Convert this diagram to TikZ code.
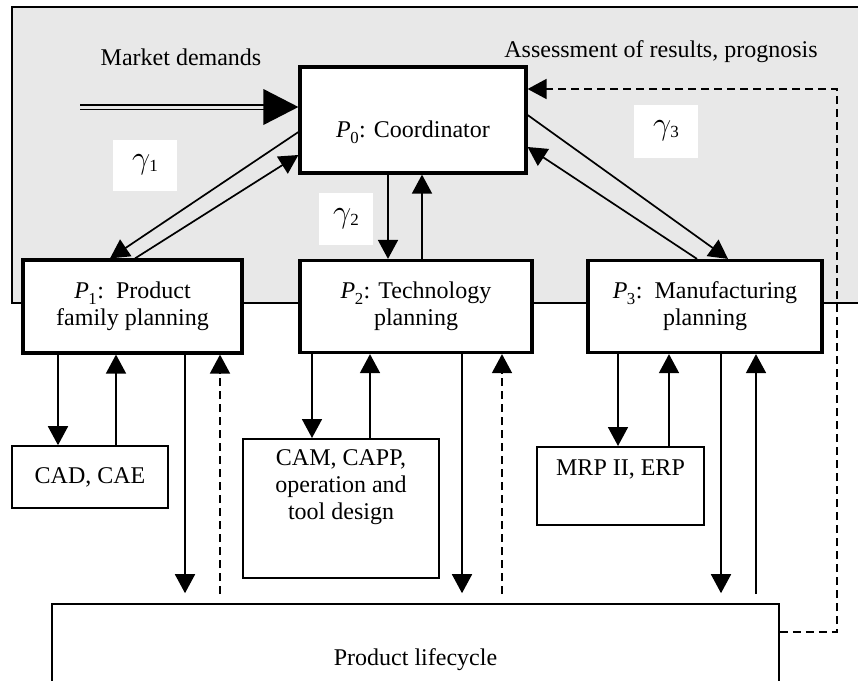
\documentclass[tikz,border=0pt]{standalone}
\usepackage{fontspec}
\usepackage{graphicx}
\setmainfont{Liberation Serif}
\usetikzlibrary{arrows.meta}
\definecolor{bggray}{RGB}{232,232,232}
\newcommand{\Pn}[1]{\textit{P}\textsubscript{\kern-0.5pt\raisebox{-2pt}{#1}}}
\newcommand{\Gn}[1]{\scalebox{1.3}{$\gamma$}\kern-1pt{\fontsize{17}{20}\selectfont\raisebox{-3pt}{#1}}}
\tikzset{
  x=1pt, y=-1pt,
  every node/.style={font=\fontsize{24}{27}\selectfont},
  mainbox/.style={draw, line width=3.2pt, fill=white, align=center, inner sep=0pt},
  toolbox/.style={draw, line width=1.6pt, fill=white, align=center, inner sep=0pt},
  gbox/.style={fill=white, inner sep=0pt},
  conn/.style={line width=1.7pt, -{Triangle[length=19pt,width=20pt]}},
  dconn/.style={conn, dash pattern=on 8pt off 5pt},
}
\begin{document}
\begin{tikzpicture}
\useasboundingbox (0,0) rectangle (858,680);
% grey background area
\draw[line width=1.5pt, fill=bggray] (12,7) rectangle (900,303);

\node (md) at (181,57) {Market demands};
\node (as) at (661,52) {Assessment of results, prognosis};

% main boxes
\node[mainbox, minimum width=226pt, minimum height=106pt] (P0) at (413,120) {};
\node at (413,132) {\Pn{0}: Coordinator};
\node[mainbox, minimum width=219pt, minimum height=93pt] (P1) at (132.5,306.5) {\Pn{1}:\ \ Product\\family planning};
\node[mainbox, minimum width=232pt, minimum height=92pt] (P2) at (416,306.5) {\Pn{2}: Technology\\planning};
\node[mainbox, minimum width=234pt, minimum height=92pt] (P3) at (705,306.5) {\Pn{3}:\ \ Manufacturing\\planning};

% tool boxes
\node[toolbox, minimum width=156pt, minimum height=62pt] (CAD) at (90,477) {CAD, CAE};
\node[toolbox, minimum width=196pt, minimum height=139pt, anchor=north] (CAM) at (341,438) {};
\node[anchor=north, align=center] at (341,446) {CAM, CAPP,\\operation and\\tool design};
\node[toolbox, minimum width=167pt, minimum height=78pt, anchor=north] (MRP) at (620.5,446) {};
\node[anchor=north] at (620.5,456) {MRP II, ERP};
\node[toolbox, minimum width=727pt, minimum height=112pt] (PL) at (415.5,660) {Product lifecycle};

% gamma labels
\node[gbox, minimum width=64pt, minimum height=51pt] (g1) at (145,165) {\Gn{1}};
\node[gbox, minimum width=54pt, minimum height=52pt] (g2) at (346,219) {\Gn{2}};
\node[gbox, minimum width=64pt, minimum height=53pt] (g3) at (666,131) {\Gn{3}};

% market demands double arrow
\coordinate (mdstart) at (80,107);
\coordinate (mdend) at (P0.west |- mdstart);
\draw[line width=1.4pt, double=bggray, double distance=3pt, shorten >=30pt] (mdstart) -- (mdend);
\fill (mdend) -- ([xshift=-35pt,yshift=-18pt]mdend) -- ([xshift=-35pt,yshift=18pt]mdend) -- cycle;

% coordinator links
\draw[conn] (P0.west |- 0,132) -- (P1.north -| 110,0);
\draw[conn] (P1.north -| 135,0) -- (P0.west |- 0,155);
\draw[conn] (P0.south -| 388,0) -- (P2.north -| 388,0);
\draw[conn] (P2.north -| 422,0) -- (P0.south -| 422,0);
\draw[conn] (P0.east |- 0,115) -- (P3.north -| 728,0);
\draw[conn] (P3.north -| 697,0) -- (P0.east |- 0,147);

% tools
\draw[conn] (P1.south -| 58,0) -- (CAD.north -| 58,0);
\draw[conn] (CAD.north -| 116,0) -- (P1.south -| 116,0);
\draw[conn] (P2.south -| 312,0) -- (CAM.north -| 312,0);
\draw[conn] (CAM.north -| 370,0) -- (P2.south -| 370,0);
\draw[conn] (P3.south -| 618,0) -- (MRP.north -| 618,0);
\draw[conn] (MRP.north -| 669,0) -- (P3.south -| 669,0);

% lifecycle links
\draw[conn, shorten >=10pt] (P1.south -| 185,0) -- (PL.north -| 185,0);
\draw[dconn, shorten <=9pt] (PL.north -| 220,0) -- (P1.south -| 220,0);
\draw[conn, shorten >=10pt] (P2.south -| 462,0) -- (PL.north -| 462,0);
\draw[dconn, shorten <=9pt] (PL.north -| 502,0) -- (P2.south -| 502,0);
\draw[conn, shorten >=10pt] (P3.south -| 721,0) -- (PL.north -| 721,0);
\draw[conn, shorten <=9pt] (PL.north -| 756,0) -- (P3.south -| 756,0);

% feedback
\draw[dconn] (PL.east |- 0,632) -- (837,632) -- (837,89) -- (P0.east |- 0,89);
\end{tikzpicture}
\end{document}
